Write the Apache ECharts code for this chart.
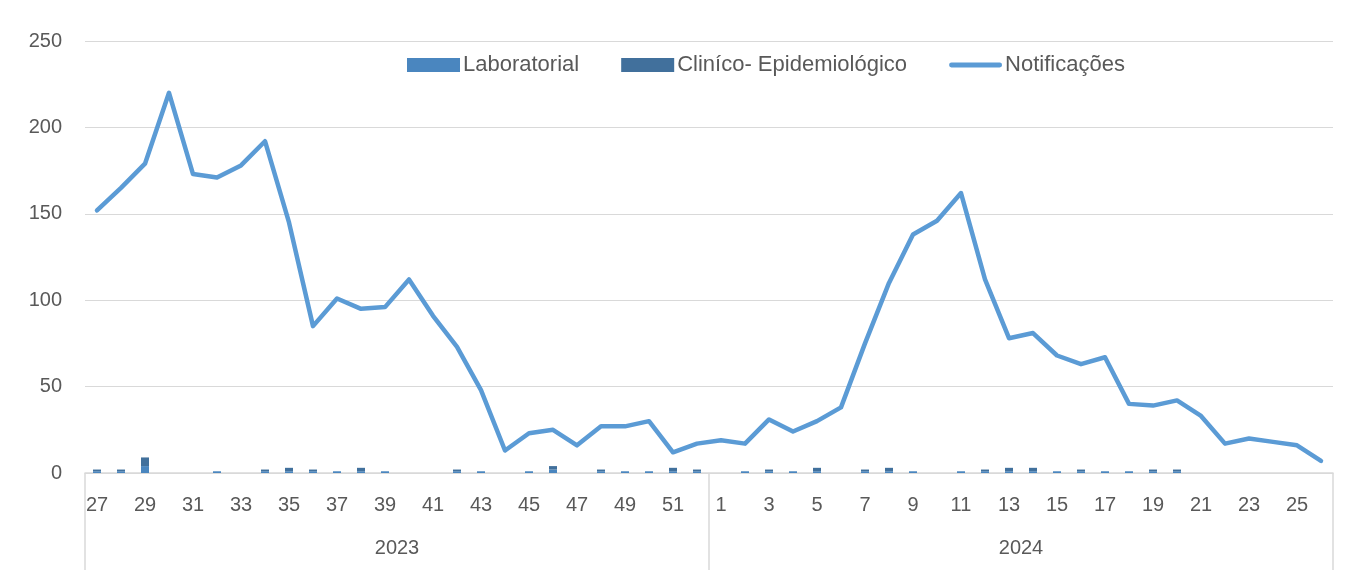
<!DOCTYPE html>
<html>
<head>
<meta charset="utf-8">
<script src="https://cdn.jsdelivr.net/npm/echarts@6/dist/echarts.min.js"></script>
<style>
  html, body { margin: 0; padding: 0; background: #fff; }
  #chart { width: 1352px; height: 570px; }
</style>
</head>
<body>
<div id="chart"></div>
<script>
// epidemiological weeks: 27..52 of 2023, then 1..26 of 2024
const weeks2023 = [27, 28, 29, 30, 31, 32, 33, 34, 35, 36, 37, 38, 39, 40, 41, 42, 43, 44, 45, 46, 47, 48, 49, 50, 51, 52];
const weeks2024 = [1, 2, 3, 4, 5, 6, 7, 8, 9, 10, 11, 12, 13, 14, 15, 16, 17, 18, 19, 20, 21, 22, 23, 24, 25, 26];
const years = ["2023", "2024"];

const notificacoes = [
  152, 165, 179, 220, 173, 171, 178, 192, 145, 85, 101, 95, 96, 112, 91, 73, 48, 13, 23, 25, 16, 27, 27, 30, 12, 17,
  19, 17, 31, 24, 30, 38, 75, 110, 138, 146, 162, 112, 78, 81, 68, 63, 67, 40, 39, 42, 33, 17, 20, 18, 16, 7
];
const laboratorial = [
  1, 1, 4, 0, 0, 1, 0, 1, 1, 1, 1, 1, 1, 0, 0, 1, 1, 0, 1, 2, 0, 1, 1, 1, 1, 1,
  0, 1, 1, 1, 1, 0, 1, 1, 1, 0, 1, 1, 1, 1, 1, 1, 1, 1, 1, 1, 0, 0, 0, 0, 0, 0
];
const clinico = [
  1, 1, 5, 0, 0, 0, 0, 1, 2, 1, 0, 2, 0, 0, 0, 1, 0, 0, 0, 2, 0, 1, 0, 0, 2, 1,
  0, 0, 1, 0, 2, 0, 1, 2, 0, 0, 0, 1, 2, 2, 0, 1, 0, 0, 1, 1, 0, 0, 0, 0, 0, 0
];

const categories = weeks2023.concat(weeks2024).map(String);
const textColor = "#595959";
const gridColor = "#d9d9d9";
const font = "Liberation Sans";
const nameLab = "Laboratorial";
const nameClin = "Clin\u00edco- Epidemiol\u00f3gico";
const nameNotif = "Notifica\u00e7\u00f5es";

const chart = echarts.init(document.getElementById("chart"));
chart.setOption({
  animation: false,
  textStyle: { fontFamily: font },
  grid: { left: 85, right: 19, top: 41, bottom: 97, containLabel: false, outerBoundsMode: "none" },
  legend: {
    left: 402,
    top: 49,
    itemGap: 42,
    itemWidth: 53,
    itemHeight: 14,
    textStyle: { fontFamily: font, fontSize: 22, color: textColor, padding: [0, 0, 0, -2] },
    data: [
      { name: nameLab, icon: "rect" },
      { name: nameClin, icon: "rect" },
      { name: nameNotif, icon: "path://M2.5,0 L52.5,0 A2.5,2.5 0 0 1 52.5,5 L2.5,5 A2.5,2.5 0 0 1 2.5,0 Z" },
    ],
  },
  xAxis: [
    {
      type: "category",
      data: categories,
      boundaryGap: true,
      axisLine: { lineStyle: { color: gridColor, width: 1.5 } },
      axisTick: { show: false },
      axisLabel: { interval: 1, color: textColor, fontSize: 20, margin: 22, fontFamily: font },
    },
    {
      type: "category",
      data: years,
      position: "bottom",
      boundaryGap: true,
      axisLine: { show: false },
      axisTick: { show: true, length: 97, lineStyle: { color: gridColor, width: 1.5 } },
      axisLabel: { color: textColor, fontSize: 20, margin: 65, fontFamily: font },
    },
  ],
  yAxis: {
    type: "value",
    min: 0,
    max: 250,
    interval: 50,
    axisLine: { show: false },
    axisTick: { show: false },
    splitLine: { lineStyle: { color: gridColor, width: 1 } },
    axisLabel: { color: textColor, fontSize: 20, margin: 23, fontFamily: font },
  },
  series: [
    {
      name: nameLab,
      type: "bar",
      stack: "casos",
      barWidth: 8,
      itemStyle: { color: "#4A86BF" },
      data: laboratorial,
    },
    {
      name: nameClin,
      type: "bar",
      stack: "casos",
      barWidth: 8,
      itemStyle: { color: "#41709C" },
      data: clinico,
    },
    {
      name: nameNotif,
      type: "line",
      symbol: "none",
      itemStyle: { color: "#5B9BD5" },
      lineStyle: { color: "#5B9BD5", width: 4.5, join: "round", cap: "round" },
      data: notificacoes,
      z: 3,
    },
  ],
});
</script>
</body>
</html>
